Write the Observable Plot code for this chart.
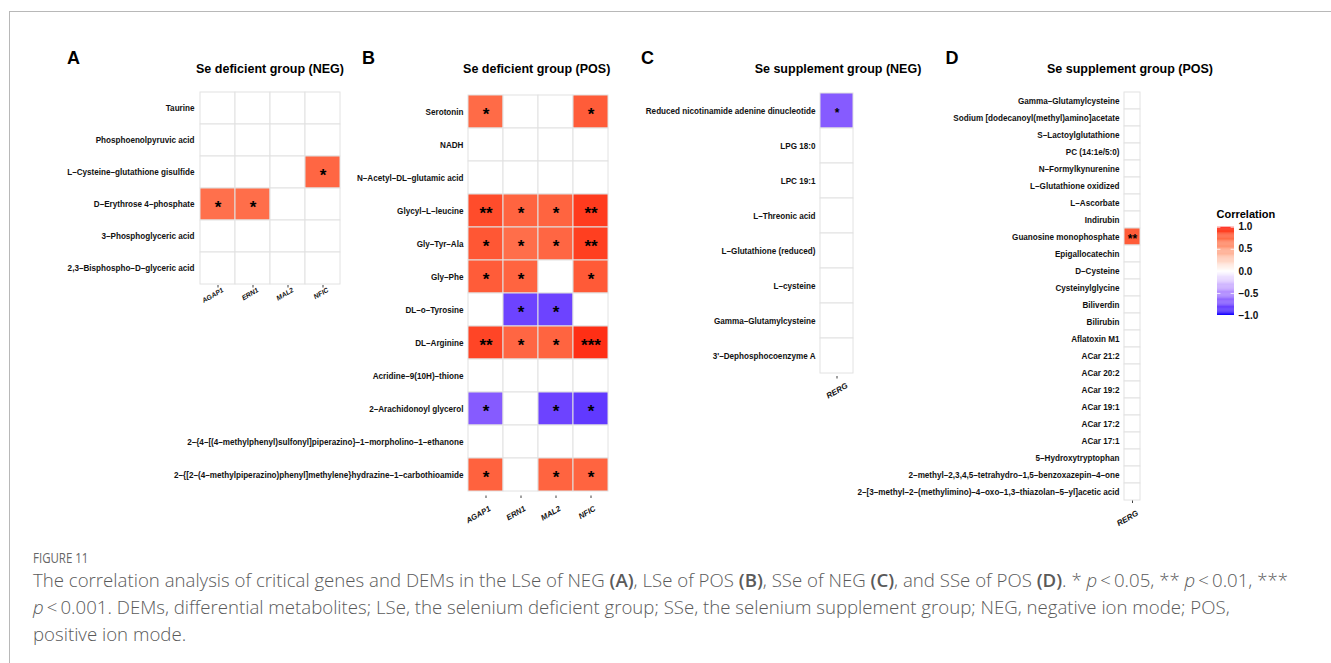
<!DOCTYPE html>
<html><head><meta charset="utf-8">
<script src="https://cdn.jsdelivr.net/npm/d3@7"></script>
<script src="https://cdn.jsdelivr.net/npm/@observablehq/plot@0.6"></script>
<style>
html,body{margin:0;padding:0;background:#fff;}
#page{position:relative;width:1331px;height:663px;overflow:hidden;font-family:"Liberation Sans",Arial,Helvetica,sans-serif;}
#frame{position:absolute;left:9px;top:11px;width:1340px;height:670px;border-top:1.5px solid #b8b8b8;border-left:1.5px solid #b8b8b8;}
.layer{position:absolute;left:0;top:0;}
.letter{position:absolute;font-size:18px;font-weight:bold;line-height:1;color:#000;}
.ptitle{position:absolute;font-size:12.5px;font-weight:bold;line-height:1;transform:translateX(-50%);white-space:nowrap;color:#000;}
#legtitle{position:absolute;left:1216.5px;top:208.7px;font-size:11px;font-weight:bold;line-height:1;}
#figlabel{position:absolute;left:33px;top:551px;font-family:"Open Sans",sans-serif;font-size:14px;line-height:14px;color:#666;transform:scaleX(0.82);transform-origin:0 0;white-space:nowrap;}
#caption{position:absolute;left:33px;top:566.5px;font-family:"Open Sans",sans-serif;font-size:17.5px;line-height:27px;color:#5a5a5a;white-space:nowrap;font-weight:300;transform-origin:0 0;}
#caption b{font-weight:600;}
</style></head>
<body>
<div id="page">
  <div id="frame"></div>
  <div class="letter" style="left:67px;top:48.8px">A</div>
  <div class="letter" style="left:362px;top:48.8px">B</div>
  <div class="letter" style="left:641px;top:48.8px">C</div>
  <div class="letter" style="left:945.5px;top:48.8px">D</div>
  <div class="ptitle" style="left:270px;top:62.7px">Se deficient group (NEG)</div>
  <div class="ptitle" style="left:536.7px;top:62.7px">Se deficient group (POS)</div>
  <div class="ptitle" style="left:838px;top:62.7px">Se supplement group (NEG)</div>
  <div class="ptitle" style="left:1130px;top:62.7px">Se supplement group (POS)</div>
  <div id="legtitle">Correlation</div>
  <div id="figlabel">FIGURE 11</div>
  <div id="caption"><span id="line1">The correlation analysis of critical genes and DEMs in the LSe of NEG <b>(A)</b>, LSe of POS <b>(B)</b>, SSe of NEG <b>(C)</b>, and SSe of POS <b>(D)</b>. * <i>p</i>&thinsp;&lt;&thinsp;0.05, ** <i>p</i>&thinsp;&lt;&thinsp;0.01, ***</span><br><i>p</i>&thinsp;&lt;&thinsp;0.001. DEMs, differential metabolites; LSe, the selenium deficient group; SSe, the selenium supplement group; NEG, negative ion mode; POS,<br>positive ion mode.</div>
</div>
<script>
// ---------------- data ----------------
const genes = ["AGAP1", "ERN1", "MAL2", "NFIC"];
const genesSSe = ["RERG"];

const metabolitesA = ["Taurine", "Phosphoenolpyruvic acid", "L–Cysteine–glutathione gisulfide", "D–Erythrose 4–phosphate", "3–Phosphoglyceric acid", "2,3–Bisphospho–D–glyceric acid"];
const corrA = [
  [0, 0, 0, 0],
  [0, 0, 0, 0],
  [0, 0, 0, 0.76],
  [0.72, 0.73, 0, 0],
  [0, 0, 0, 0],
  [0, 0, 0, 0]
];
const sigA = [
  ["", "", "", ""],
  ["", "", "", ""],
  ["", "", "", "*"],
  ["*", "*", "", ""],
  ["", "", "", ""],
  ["", "", "", ""]
];

const metabolitesB = ["Serotonin", "NADH", "N–Acetyl–DL–glutamic acid", "Glycyl–L–leucine", "Gly–Tyr–Ala", "Gly–Phe", "DL–o–Tyrosine", "DL–Arginine", "Acridine–9(10H)–thione", "2–Arachidonoyl glycerol", "2–{4–[(4–methylphenyl)sulfonyl]piperazino}–1–morpholino–1–ethanone", "2–{[2–(4–methylpiperazino)phenyl]methylene}hydrazine–1–carbothioamide"];
const corrB = [
  [0.74, 0, 0, 0.8],
  [0, 0, 0, 0],
  [0, 0, 0, 0],
  [0.86, 0.77, 0.77, 0.91],
  [0.82, 0.73, 0.76, 0.9],
  [0.8, 0.77, 0, 0.81],
  [0, -0.8, -0.8, 0],
  [0.88, 0.76, 0.77, 0.94],
  [0, 0, 0, 0],
  [-0.7, 0, -0.8, -0.84],
  [0, 0, 0, 0],
  [0.78, 0, 0.77, 0.77]
];
const sigB = [
  ["*", "", "", "*"],
  ["", "", "", ""],
  ["", "", "", ""],
  ["**", "*", "*", "**"],
  ["*", "*", "*", "**"],
  ["*", "*", "", "*"],
  ["", "*", "*", ""],
  ["**", "*", "*", "***"],
  ["", "", "", ""],
  ["*", "", "*", "*"],
  ["", "", "", ""],
  ["*", "", "*", "*"]
];

const metabolitesC = ["Reduced nicotinamide adenine dinucleotide", "LPG 18:0", "LPC 19:1", "L–Threonic acid", "L–Glutathione (reduced)", "L–cysteine", "Gamma–Glutamylcysteine", "3'–Dephosphocoenzyme A"];
const corrC = [[-0.7], [0], [0], [0], [0], [0], [0], [0]];
const sigC = [["*"], [""], [""], [""], [""], [""], [""], [""]];

const metabolitesD = ["Gamma–Glutamylcysteine", "Sodium [dodecanoyl(methyl)amino]acetate", "S–Lactoylglutathione", "PC (14:1e/5:0)", "N–Formylkynurenine", "L–Glutathione oxidized", "L–Ascorbate", "Indirubin", "Guanosine monophosphate", "Epigallocatechin", "D–Cysteine", "Cysteinylglycine", "Biliverdin", "Bilirubin", "Aflatoxin M1", "ACar 21:2", "ACar 20:2", "ACar 19:2", "ACar 19:1", "ACar 17:2", "ACar 17:1", "5–Hydroxytryptophan", "2–methyl–2,3,4,5–tetrahydro–1,5–benzoxazepin–4–one", "2–[3–methyl–2–(methylimino)–4–oxo–1,3–thiazolan–5–yl]acetic acid"];
const corrD = [[0], [0], [0], [0], [0], [0], [0], [0], [0.8], [0], [0], [0], [0], [0], [0], [0], [0], [0], [0], [0], [0], [0], [0], [0]];
const sigD = [[""], [""], [""], [""], [""], [""], [""], [""], ["**"], [""], [""], [""], [""], [""], [""], [""], [""], [""], [""], [""], [""], [""], [""], [""]];

const legendTicks = [-1, -0.5, 0, 0.5, 1];

// ---------------- drawing ----------------
const FONT = '"Liberation Sans", Arial, Helvetica, sans-serif';
const colorScale = {type: "linear", domain: [-1, 0, 1], range: ["blue", "white", "red"], interpolate: "lab"};
const W = 1331, H = 545;

function tidy(rows, cols, corr, sig) {
  const out = [];
  rows.forEach((m, i) => cols.forEach((g, j) => out.push({metabolite: m, gene: g, r: corr[i][j], sig: sig[i][j]})));
  return out;
}

function heat(rows, cols, corr, sig, box, opt) {
  const data = tidy(rows, cols, corr, sig);
  return Plot.plot({
    width: W, height: H,
    marginLeft: box.x0, marginRight: W - box.x1, marginTop: box.y0, marginBottom: H - box.y1,
    style: {background: "transparent", overflow: "visible", fontFamily: FONT, color: "#111"},
    x: {type: "band", domain: cols, padding: 0},
    y: {type: "band", domain: rows, padding: 0},
    color: colorScale,
    marks: [
      Plot.cell(data, {x: "gene", y: "metabolite", fill: "r", stroke: "#e2e2e2", strokeWidth: 1, inset: 0}),
      Plot.text(data.filter(d => d.sig), {x: "gene", y: "metabolite", text: "sig", fontSize: opt.star, fontWeight: "bold", dy: 0.17 * opt.star, fill: "black"}),
      Plot.axisX({tickSize: 2.5, tickFormat: () => "", label: null, strokeOpacity: 0.8}),
      Plot.text(cols, {x: d => d, text: d => d, frameAnchor: "bottom", textAnchor: "end", lineAnchor: "middle", rotate: -30,
        dx: opt.ldx, dy: opt.ldy, fontSize: opt.lfs, fontStyle: "italic", fontWeight: "bold", fill: "#111"}),
      Plot.axisY({tickSize: 0, tickPadding: 5, fontSize: 8.15, fontWeight: "bold", label: null})
    ]
  });
}

const page = document.getElementById("page");
function place(el, left, top) {
  const wrap = document.createElement("div");
  wrap.className = "layer";
  wrap.style.left = left + "px";
  wrap.style.top = top + "px";
  wrap.appendChild(el);
  page.appendChild(wrap);
}

place(heat(metabolitesA, genes, corrA, sigA, {x0: 199, x1: 340, y0: 90, y1: 285}, {star: 17, lfs: 6.8, ldx: 5, ldy: 4}), 0, 0);
place(heat(metabolitesB, genes, corrB, sigB, {x0: 468, x1: 608, y0: 90.5, y1: 495.5}, {star: 17, lfs: 7.8, ldx: 4, ldy: 12}), 0, 0);
place(heat(metabolitesC, genesSSe, corrC, sigC, {x0: 820, x1: 853, y0: 90.5, y1: 376}, {star: 12, lfs: 8, ldx: 10, ldy: 8.5}), 0, 0);
place(heat(metabolitesD, genesSSe, corrD, sigD, {x0: 1124, x1: 1140.5, y0: 90.5, y1: 500.5}, {star: 12, lfs: 8, ldx: 5, ldy: 11.5}), 0, 0);

// colour bar legend
const stops = d3.range(-1, 1, 0.02);
const legend = Plot.plot({
  width: 80, height: 130,
  marginLeft: 17, marginRight: 46, marginTop: 26.7, marginBottom: 15,
  style: {background: "transparent", overflow: "visible", fontFamily: FONT, color: "#111"},
  x: {domain: [0, 1], axis: null},
  y: {domain: [-1, 1], axis: null},
  color: colorScale,
  marks: [
    Plot.rect(stops, {x1: 0, x2: 1, y1: d => d, y2: d => Math.min(1, d + 0.024), fill: d => d + 0.01}),
    Plot.ruleY(legendTicks, {x1: 0, x2: 0.2, stroke: "white", strokeWidth: 0.8}),
    Plot.ruleY(legendTicks, {x1: 0.8, x2: 1, stroke: "white", strokeWidth: 0.8}),
    Plot.axisY({anchor: "right", ticks: legendTicks, tickSize: 0, tickPadding: 4, tickFormat: d3.format(".1f"), fontSize: 10, fontWeight: "bold", label: null})
  ]
});
place(legend, 1200, 200);

// fit caption first line to reference width (horizontal squeeze only)
const l1 = document.getElementById("line1");
const cap = document.getElementById("caption");
const w1 = l1.getBoundingClientRect().width;
if (w1 > 0) {
  const s = Math.max(0.8, Math.min(1.15, 1255 / w1));
  cap.style.transform = "scaleX(" + s + ")";
}
</script>
</body></html>
